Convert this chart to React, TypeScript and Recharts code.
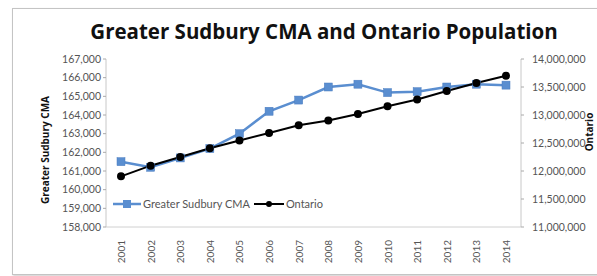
import React from "react";
import { LineChart, Line, XAxis, YAxis, Legend } from "recharts";

const years = ["2001", "2002", "2003", "2004", "2005", "2006", "2007", "2008", "2009", "2010", "2011", "2012", "2013", "2014"];
const sudbury = [161500, 161200, 161700, 162200, 163000, 164200, 164800, 165500, 165650, 165200, 165250, 165500, 165650, 165600];
const ontario = [11905000, 12095000, 12250000, 12405000, 12545000, 12678000, 12817000, 12900000, 13017000, 13155000, 13278000, 13428000, 13572000, 13700000];
const leftTicks = [158000, 159000, 160000, 161000, 162000, 163000, 164000, 165000, 166000, 167000];
const rightTicks = [11000000, 11500000, 12000000, 12500000, 13000000, 13500000, 14000000];

const data = years.map((y, i) => ({ year: y, sudbury: sudbury[i], ontario: ontario[i] }));

const BLUE = "#5a8ed0";
const TICK_FONT = "Lato, sans-serif";
const fmt = (v: number) => v.toLocaleString("en-US");

function YearTick(props: any) {
  const { x, y, payload } = props;
  return (
    <text
      x={x}
      y={y + 5}
      transform={`rotate(-90, ${x}, ${y + 5})`}
      textAnchor="end"
      dominantBaseline="central"
      fontSize={10}
      fontFamily={TICK_FONT}
      fill="#555"
    >
      {payload.value}
    </text>
  );
}

function SquareDot(props: any) {
  const { cx, cy } = props;
  if (cx == null || cy == null) return null;
  return <rect x={cx - 4} y={cy - 4} width={8} height={8} fill={BLUE} stroke="#4a7cc0" strokeWidth={0.5} />;
}

function LegendBox() {
  return (
    <div style={{ display: "flex", alignItems: "center", fontFamily: TICK_FONT, fontSize: 11, color: "#555" }}>
      <svg width={28} height={10}>
        <line x1={0} y1={5} x2={28} y2={5} stroke={BLUE} strokeWidth={2.5} />
        <rect x={10} y={1} width={8} height={8} fill={BLUE} />
      </svg>
      <span style={{ marginLeft: 2, marginRight: 4 }}>Greater Sudbury CMA</span>
      <svg width={30} height={10}>
        <line x1={0} y1={5} x2={30} y2={5} stroke="#000" strokeWidth={2} />
        <circle cx={15} cy={5} r={3} fill="#000" />
      </svg>
      <span style={{ marginLeft: 2 }}>Ontario</span>
    </div>
  );
}

export default function App() {
  return (
    <div style={{ position: "absolute", left: 0, top: 0, width: 597, height: 276, background: "#fff", overflow: "hidden" }}>
      <div
        style={{
          position: "absolute",
          left: 12,
          top: 8,
          width: 590,
          height: 265,
          border: "1px solid #c4c4c4",
          boxShadow: "1px 1px 2px #ccc",
        }}
      />
      <div
        style={{
          position: "absolute",
          left: 0,
          width: 648,
          top: 17,
          textAlign: "center",
          fontFamily: "'Open Sans', sans-serif",
          fontWeight: 700,
          fontSize: 20.5,
          color: "#111",
          whiteSpace: "nowrap",
        }}
      >
        Greater Sudbury CMA and Ontario Population
      </div>
      <div
        style={{
          position: "absolute",
          left: 45,
          top: 150,
          transform: "translate(-50%, -50%) rotate(-90deg)",
          fontFamily: "'Open Sans', sans-serif",
          fontWeight: 700,
          fontSize: 10,
          color: "#111",
          whiteSpace: "nowrap",
        }}
      >
        Greater Sudbury CMA
      </div>
      <div
        style={{
          position: "absolute",
          left: 589,
          top: 132,
          transform: "translate(-50%, -50%) rotate(-90deg)",
          fontFamily: "'Open Sans', sans-serif",
          fontWeight: 700,
          fontSize: 10,
          color: "#111",
          whiteSpace: "nowrap",
        }}
      >
        Ontario
      </div>
      <div style={{ position: "absolute", left: 0, top: 0 }}>
        <LineChart width={597} height={276} data={data} margin={{ top: 59, right: 0, bottom: 0, left: 0 }}>
          <XAxis
            dataKey="year"
            height={36}
            tick={<YearTick />}
            tickLine={false}
            axisLine={{ stroke: "#d0d0d0" }}
            interval={0}
            padding={{ left: 15, right: 15 }}
          />
          <YAxis
            yAxisId="left"
            width={106}
            domain={[158000, 167000]}
            ticks={leftTicks}
            tickFormatter={fmt}
            tick={{ fontSize: 10.5, fontFamily: TICK_FONT, fill: "#555" }}
            tickLine={{ stroke: "#aaa" }}
            tickSize={3}
            axisLine={{ stroke: "#c8c8c8" }}
          />
          <YAxis
            yAxisId="right"
            orientation="right"
            width={76}
            domain={[11000000, 14000000]}
            ticks={rightTicks}
            tickFormatter={fmt}
            tick={{ fontSize: 10.5, fontFamily: TICK_FONT, fill: "#555", textAnchor: "start" }}
            tickLine={{ stroke: "#aaa" }}
            tickSize={3}
            tickMargin={8}
            axisLine={{ stroke: "#c8c8c8" }}
          />
          <Legend
            content={<LegendBox />}
            wrapperStyle={{ position: "absolute", left: 113, top: 197, width: 300 }}
          />
          <Line
            yAxisId="left"
            dataKey="sudbury"
            name="Greater Sudbury CMA"
            stroke={BLUE}
            strokeWidth={2.5}
            dot={<SquareDot />}
            isAnimationActive={false}
          />
          <Line
            yAxisId="right"
            dataKey="ontario"
            name="Ontario"
            stroke="#000"
            strokeWidth={2}
            dot={{ r: 3, fill: "#000", stroke: "#000" }}
            isAnimationActive={false}
          />
        </LineChart>
      </div>
    </div>
  );
}
